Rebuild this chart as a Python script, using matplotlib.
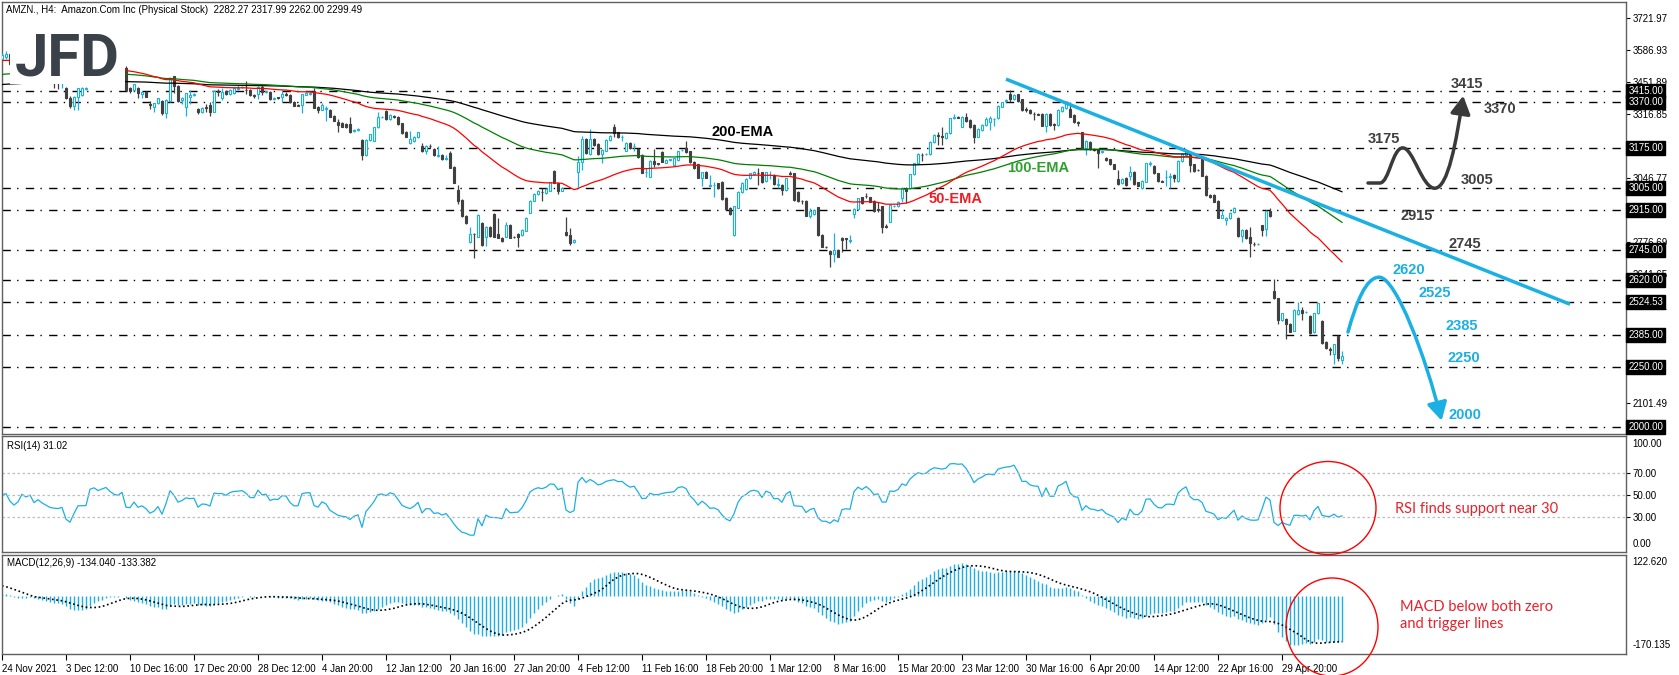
import numpy as np
import matplotlib
matplotlib.use("Agg")
import matplotlib.pyplot as plt
from matplotlib.path import Path
from matplotlib.patches import FancyArrowPatch, Ellipse, Rectangle

W, H = 1679, 675

# ---- H4 bars, AMZN 24 Nov 2021 .. 3 May 2022 ----
opens = [
    3550, 3560, 3572, 3530, 3505, 3520, 3560, 3545, 3555, 3510, 3525, 3505,
    3490, 3475, 3470, 3468, 3426, 3387, 3353, 3391, 3398, 3425, 3470, 3520,
    3530, 3515, 3525, 3535, 3515, 3500, 3495, 3511, 3426, 3418, 3429, 3401,
    3412, 3360, 3349, 3363, 3373, 3321, 3374, 3476, 3436, 3378, 3349, 3391,
    3398, 3338, 3325, 3346, 3356, 3328, 3415, 3384, 3415, 3401, 3405, 3424,
    3430, 3421, 3419, 3398, 3403, 3433, 3410, 3412, 3381, 3388, 3391, 3403,
    3398, 3370, 3356, 3356, 3400, 3402, 3415, 3349, 3335, 3340, 3335, 3311,
    3286, 3279, 3275, 3275, 3247, 3250, 3209, 3143, 3209, 3206, 3261, 3307,
    3331, 3297, 3311, 3307, 3279, 3244, 3195, 3204, 3219, 3181, 3162, 3183,
    3171, 3140, 3146, 3128, 3153, 3096, 2998, 2956, 2888, 2780, 2813, 2801,
    2857, 2801, 2841, 2897, 2811, 2797, 2801, 2850, 2801, 2813, 2808, 2826,
    2902, 2953, 2979, 2990, 2984, 2995, 3078, 3029, 2995, 2819, 2808, 2777,
    3075, 3115, 3213, 3150, 3213, 3192, 3150, 3164, 3209, 3261, 3241, 3220,
    3164, 3195, 3181, 3171, 3146, 3072, 3054, 3120, 3110, 3157, 3113, 3122,
    3103, 3124, 3165, 3174, 3160, 3117, 3106, 3050, 3075, 3015, 3018, 3026,
    3033, 2963, 2921, 2808, 2923, 2988, 3002, 3047, 3064, 3071, 3072, 3036,
    3060, 3061, 3020, 3019, 2998, 3068, 3068, 2991, 2953, 2951, 2889, 2895,
    2924, 2808, 2759, 2741, 2727, 2745, 2797, 2794, 2784, 2895, 2917, 2966,
    2974, 2966, 2953, 2918, 2928, 2844, 2864, 2930, 2928, 2963, 3005, 3005,
    3064, 3110, 3146, 3148, 3150, 3199, 3230, 3225, 3216, 3237, 3302, 3305,
    3265, 3307, 3293, 3272, 3223, 3251, 3272, 3286, 3296, 3300, 3349, 3374,
    3401, 3380, 3401, 3380, 3338, 3335, 3318, 3317, 3317, 3269, 3317, 3275,
    3272, 3331, 3342, 3339, 3314, 3283, 3241, 3174, 3199, 3170, 3167, 3156,
    3134, 3127, 3106, 3044, 3026, 3050, 3058, 3075, 3030, 3005, 3033, 3108,
    3099, 3068, 3036, 3052, 3054, 3061, 3036, 3120, 3146, 3148, 3106, 3082,
    3131, 3058, 2977, 2977, 2952, 2881, 2870, 2879, 2903, 2881, 2805, 2829,
    2801, 2770, 2769, 2848, 2833, 2909, 2572, 2541, 2450, 2453, 2432, 2405,
    2474, 2492, 2482, 2468, 2398, 2478, 2447, 2356, 2328, 2307, 2384, 2282.27,
]
highs = [
    3575, 3585, 3580, 3545, 3530, 3570, 3575, 3565, 3560, 3540, 3535, 3515,
    3500, 3485, 3480, 3478, 3431, 3392, 3392, 3428, 3431, 3432, 3530, 3540,
    3545, 3535, 3545, 3540, 3525, 3515, 3520, 3521, 3431, 3446, 3432, 3415,
    3414, 3374, 3365, 3386, 3376, 3380, 3472, 3478, 3440, 3390, 3408, 3419,
    3405, 3342, 3348, 3358, 3370, 3418, 3422, 3426, 3418, 3422, 3428, 3440,
    3436, 3457, 3422, 3402, 3436, 3443, 3416, 3414, 3390, 3391, 3420, 3410,
    3402, 3373, 3360, 3404, 3410, 3415, 3426, 3352, 3363, 3350, 3338, 3314,
    3297, 3283, 3279, 3307, 3255, 3260, 3212, 3212, 3235, 3264, 3325, 3311,
    3334, 3317, 3314, 3310, 3282, 3247, 3247, 3226, 3244, 3196, 3186, 3190,
    3174, 3182, 3149, 3146, 3160, 3099, 3019, 2960, 2892, 2843, 2818, 2896,
    2862, 2844, 2845, 2900, 2878, 2800, 2864, 2853, 2805, 2816, 2832, 2882,
    2956, 2983, 2998, 3008, 3004, 3033, 3081, 3032, 3011, 2883, 2838, 2790,
    3140, 3226, 3216, 3255, 3216, 3195, 3170, 3212, 3228, 3275, 3244, 3228,
    3198, 3198, 3195, 3174, 3149, 3089, 3123, 3171, 3113, 3160, 3127, 3130,
    3134, 3163, 3170, 3202, 3163, 3120, 3109, 3075, 3078, 3061, 3033, 3029,
    3036, 2966, 2924, 2931, 2994, 3032, 3047, 3071, 3078, 3089, 3075, 3075,
    3078, 3064, 3047, 3022, 3050, 3078, 3071, 2994, 2956, 2954, 2923, 2917,
    2927, 2811, 2762, 2744, 2815, 2748, 2800, 2797, 2807, 2920, 2965, 2969,
    2984, 2969, 2956, 2949, 2931, 2853, 2938, 2935, 2952, 3010, 3012, 3067,
    3113, 3153, 3153, 3153, 3202, 3233, 3240, 3265, 3240, 3303, 3316, 3308,
    3310, 3321, 3296, 3275, 3258, 3275, 3307, 3310, 3300, 3356, 3370, 3380,
    3419, 3401, 3404, 3383, 3349, 3338, 3328, 3320, 3320, 3320, 3320, 3280,
    3338, 3352, 3373, 3370, 3317, 3288, 3244, 3210, 3202, 3176, 3170, 3163,
    3137, 3130, 3109, 3082, 3047, 3053, 3100, 3078, 3033, 3039, 3113, 3120,
    3102, 3071, 3040, 3082, 3068, 3064, 3123, 3151, 3170, 3151, 3109, 3085,
    3134, 3061, 2980, 2980, 2955, 2918, 2884, 2905, 2926, 2884, 2832, 2832,
    2840, 2778, 2773, 2851, 2914, 2920, 2621, 2544, 2481, 2456, 2435, 2495,
    2524, 2506, 2488, 2471, 2481, 2523, 2450, 2359, 2335, 2350, 2387, 2317.99,
]
lows = [
    3540, 3548, 3520, 3495, 3490, 3515, 3535, 3530, 3500, 3495, 3495, 3480,
    3465, 3428, 3425, 3427, 3380, 3345, 3335, 3335, 3395, 3420, 3465, 3505,
    3510, 3500, 3515, 3505, 3490, 3485, 3485, 3415, 3405, 3415, 3387, 3384,
    3389, 3340, 3328, 3360, 3315, 3303, 3370, 3405, 3370, 3360, 3311, 3360,
    3395, 3318, 3322, 3328, 3311, 3325, 3393, 3377, 3399, 3398, 3402, 3418,
    3426, 3401, 3393, 3384, 3381, 3400, 3406, 3378, 3378, 3382, 3370, 3392,
    3366, 3350, 3350, 3324, 3398, 3400, 3343, 3324, 3333, 3290, 3305, 3288,
    3240, 3262, 3258, 3237, 3243, 3247, 3124, 3140, 3205, 3203, 3258, 3303,
    3294, 3294, 3303, 3273, 3234, 3220, 3192, 3201, 3216, 3159, 3148, 3176,
    3140, 3135, 3124, 3122, 3090, 3026, 2940, 2883, 2855, 2773, 2710, 2798,
    2763, 2763, 2800, 2798, 2794, 2780, 2798, 2794, 2796, 2759, 2805, 2823,
    2899, 2950, 2976, 2953, 2981, 2992, 3026, 2980, 2992, 2805, 2766, 2774,
    3012, 3083, 3150, 3147, 3185, 3147, 3110, 3161, 3206, 3219, 3216, 3204,
    3161, 3171, 3160, 3133, 3068, 3054, 3051, 3096, 3105, 3114, 3110, 3119,
    3100, 3121, 3162, 3154, 3112, 3086, 3047, 3016, 3047, 3012, 2970, 3002,
    2957, 2915, 2892, 2805, 2920, 2985, 2999, 3044, 3061, 3019, 3027, 3033,
    3044, 3019, 3005, 2977, 2995, 3062, 2953, 2949, 2937, 2887, 2881, 2892,
    2805, 2756, 2754, 2672, 2693, 2714, 2738, 2749, 2773, 2878, 2914, 2939,
    2963, 2946, 2906, 2906, 2818, 2838, 2861, 2927, 2925, 2949, 2942, 3002,
    3061, 3107, 3120, 3145, 3147, 3196, 3188, 3188, 3213, 3234, 3297, 3300,
    3262, 3286, 3258, 3197, 3220, 3248, 3269, 3251, 3268, 3297, 3346, 3370,
    3370, 3377, 3370, 3332, 3328, 3318, 3293, 3312, 3266, 3243, 3269, 3250,
    3269, 3328, 3339, 3304, 3280, 3268, 3171, 3145, 3168, 3162, 3089, 3153,
    3121, 3103, 3084, 3019, 3023, 3016, 3040, 3019, 3013, 3002, 3030, 3100,
    3065, 3033, 3030, 3016, 3005, 3033, 3033, 3117, 3143, 3075, 3075, 3077,
    3055, 2974, 2963, 2946, 2878, 2878, 2850, 2876, 2900, 2801, 2780, 2791,
    2717, 2762, 2766, 2805, 2805, 2883, 2538, 2432, 2447, 2370, 2398, 2402,
    2471, 2450, 2479, 2391, 2395, 2475, 2349, 2328, 2302, 2265, 2275, 2262.00,
]
closes = [
    3565, 3572, 3530, 3505, 3520, 3560, 3545, 3555, 3510, 3525, 3505, 3490,
    3475, 3470, 3468, 3472, 3384, 3353, 3389, 3426, 3426, 3427, 3520, 3530,
    3515, 3525, 3535, 3515, 3500, 3495, 3510, 3419, 3415, 3443, 3405, 3412,
    3391, 3354, 3363, 3384, 3320, 3377, 3469, 3434, 3373, 3385, 3405, 3398,
    3401, 3325, 3345, 3342, 3328, 3415, 3412, 3412, 3401, 3419, 3426, 3427,
    3431, 3418, 3396, 3395, 3433, 3410, 3413, 3381, 3387, 3385, 3401, 3400,
    3370, 3353, 3353, 3401, 3405, 3405, 3345, 3335, 3356, 3345, 3307, 3290,
    3272, 3265, 3261, 3241, 3251, 3255, 3143, 3209, 3232, 3261, 3304, 3307,
    3297, 3314, 3307, 3276, 3237, 3223, 3213, 3223, 3241, 3162, 3183, 3181,
    3143, 3146, 3127, 3133, 3092, 3029, 2953, 2886, 2860, 2811, 2811, 2893,
    2766, 2841, 2805, 2801, 2797, 2783, 2850, 2797, 2799, 2801, 2829, 2879,
    2953, 2980, 2995, 2988, 3001, 3030, 3029, 2995, 3008, 2808, 2773, 2787,
    3117, 3213, 3153, 3213, 3188, 3150, 3167, 3209, 3225, 3237, 3219, 3223,
    3195, 3174, 3185, 3136, 3071, 3075, 3120, 3108, 3108, 3117, 3124, 3127,
    3131, 3160, 3167, 3157, 3115, 3089, 3050, 3072, 3050, 3017, 3019, 3005,
    2960, 2918, 2895, 2928, 2991, 3029, 3044, 3068, 3075, 3068, 3030, 3072,
    3062, 3022, 3024, 2998, 3047, 3066, 2956, 2952, 2950, 2890, 2907, 2914,
    2808, 2759, 2757, 2727, 2745, 2717, 2787, 2792, 2787, 2917, 2962, 2942,
    2973, 2949, 2909, 2915, 2843, 2842, 2935, 2932, 2949, 3005, 2994, 3064,
    3110, 3150, 3143, 3150, 3199, 3230, 3227, 3223, 3237, 3300, 3305, 3302,
    3307, 3289, 3261, 3223, 3255, 3272, 3297, 3300, 3297, 3353, 3367, 3377,
    3381, 3398, 3373, 3335, 3336, 3321, 3316, 3315, 3269, 3317, 3272, 3272,
    3335, 3349, 3370, 3307, 3283, 3279, 3174, 3202, 3171, 3166, 3153, 3160,
    3124, 3106, 3087, 3022, 3044, 3019, 3075, 3022, 3016, 3036, 3110, 3112,
    3068, 3036, 3033, 3054, 3055, 3050, 3120, 3148, 3167, 3103, 3078, 3080,
    3058, 2977, 2966, 2949, 2881, 2893, 2881, 2902, 2923, 2804, 2829, 2794,
    2773, 2769, 2771, 2829, 2911, 2886, 2541, 2450, 2478, 2432, 2401, 2492,
    2492, 2478, 2485, 2394, 2478, 2520, 2352, 2331, 2325, 2347, 2288, 2299.49,
]

# indicator values just before the first bar, read at the left edge
ema50_seed, ema100_seed, ema200_seed = 3542, 3483, 3441
ema12_seed, ema26_seed, signal_seed = 3570, 3562, 35
rsi_gain_seed, rsi_loss_seed = 12.0, 12.0

date_labels = ["24 Nov 2021", "3 Dec 12:00", "10 Dec 16:00", "17 Dec 20:00",
               "28 Dec 12:00", "4 Jan 20:00", "12 Jan 12:00", "20 Jan 16:00",
               "27 Jan 20:00", "4 Feb 12:00", "11 Feb 16:00", "18 Feb 20:00",
               "1 Mar 12:00", "8 Mar 16:00", "15 Mar 20:00", "23 Mar 12:00",
               "30 Mar 16:00", "6 Apr 20:00", "14 Apr 12:00", "22 Apr 16:00",
               "29 Apr 20:00"]
bars_per_label = 16

# scale labels; the ones sitting under a level box are left blank
price_ticks = [3721.97, 3586.93, 3451.89, 3316.85, 3181.81, 3046.77, 2911.73,
               2776.69, 2641.65, 2506.61, 2371.57, 2236.53, 2101.49]
hidden_ticks = [3181.81, 2911.73, 2371.57, 2236.53]
levels = [3415, 3370, 3175, 3005, 2915, 2745, 2620, 2524.53, 2385, 2250, 2000]

# scenario targets written on the chart
bull_path = [3005, 3175, 3005, 3415]
bear_path = [2385, 2620, 2000]
trend_start = (251, 3465)
trend_end = (392, 2516)


def ema(values, period, seed):
    k = 2.0 / (period + 1)
    out, prev = [], seed
    for v in values:
        prev = prev + k * (v - prev)
        out.append(prev)
    return np.array(out)


def rsi(values, period, gain, loss):
    out, prev = [], values[0]
    for v in values:
        d = v - prev
        gain = (gain * (period - 1) + max(d, 0)) / period
        loss = (loss * (period - 1) + max(-d, 0)) / period
        out.append(100 - 100 / (1 + gain / loss) if loss > 0 else 100)
        prev = v
    return np.array(out)


opens = np.array(opens, float)
closes = np.array(closes, float)
highs = np.maximum(np.array(highs, float), np.maximum(opens, closes))
lows = np.minimum(np.array(lows, float), np.minimum(opens, closes))
idx = np.arange(len(closes))

ema50 = ema(closes, 50, ema50_seed)
ema100 = ema(closes, 100, ema100_seed)
ema200 = ema(closes, 200, ema200_seed)
macd = ema(closes, 12, ema12_seed) - ema(closes, 26, ema26_seed)
padded = np.concatenate([[signal_seed] * 8, macd])
signal = np.array([padded[i:i + 9].mean() for i in range(len(macd))])
rsi_vals = rsi(closes, 14, rsi_gain_seed, rsi_loss_seed)

CYAN = '#1ab0e4'
DARK = '#404040'
MT = 'Liberation Sans'
ANN = 'Liberation Sans'

fig = plt.figure(figsize=(W / 100, H / 100), dpi=100)


def frac(x0, y0, x1, y1):
    return [x0 / W, 1 - y1 / H, (x1 - x0) / W, (y1 - y0) / H]


ax = fig.add_axes(frac(2, 2, 1626, 434))
ax_rsi = fig.add_axes(frac(2, 436, 1626, 552))
ax_macd = fig.add_axes(frac(2, 555, 1626, 654))

xmax = (1626 - 2) / 4
for a in (ax, ax_rsi, ax_macd):
    a.set_xlim(0, xmax)
    for s in a.spines.values():
        s.set_color('#606060')
        s.set_linewidth(1.0)
    a.yaxis.tick_right()
    a.tick_params(axis='y', length=3, width=0.8, pad=2, labelsize=7,
                  colors='black')

# ---- price panel ----
ax.set_ylim(1969, 3790)
ax.set_xticks([])
ax.set_yticks(price_ticks)
ax.set_yticklabels(["" if t in hidden_ticks else f"{t:.2f}" for t in price_ticks],
                   family=MT, fontsize=7)

up = closes >= opens
colors = np.where(up, CYAN, DARK)
ax.vlines(idx, lows, highs, colors=colors, lw=0.9, zorder=3)
ax.bar(idx[up], (closes - opens)[up], bottom=opens[up], width=0.55,
       facecolor='white', edgecolor=CYAN, linewidth=0.8, zorder=4)
ax.bar(idx[~up], (closes - opens)[~up], bottom=opens[~up], width=0.55,
       facecolor=DARK, edgecolor=DARK, linewidth=0.8, zorder=4)

ax.plot(idx, ema200, color='black', lw=0.9, zorder=5)
ax.plot(idx, ema100, color='#008000', lw=0.9, zorder=5)
ax.plot(idx, ema50, color='#ff0000', lw=0.9, zorder=5)

for lv in levels:
    ax.axhline(lv, color='black', lw=1.0, dashes=(6, 4.5, 1, 5.3), zorder=2)
    ax.text(1.0015, lv, f"{lv:.2f}", transform=ax.get_yaxis_transform(),
            ha='left', va='center', fontsize=7, family=MT, color='white',
            bbox=dict(boxstyle='square,pad=0.2', fc='black', ec='black'),
            zorder=10, clip_on=False)

ax.plot([trend_start[0], trend_end[0]], [trend_start[1], trend_end[1]],
        color=CYAN, lw=2.5, solid_capstyle='butt', zorder=6)

# bullish scenario (dark)
b0, b1, b2, b3 = bull_path
bull = Path([(341.5, b0 + 22), (344.5, b0 + 22),
             (346.8, b0 + 25), (347.6, b1), (350.2, b1),
             (352.8, b1), (355.0, b2), (358.2, b2),
             (361.5, b2), (363.6, b1 + 30), (365.3, b3 - 20)],
            [Path.MOVETO, Path.LINETO,
             Path.CURVE4, Path.CURVE4, Path.CURVE4,
             Path.CURVE4, Path.CURVE4, Path.CURVE4,
             Path.CURVE4, Path.CURVE4, Path.CURVE4])
ax.add_patch(FancyArrowPatch(path=bull, arrowstyle='-|>,head_length=0.9,head_width=0.5',
                             mutation_scale=12, color='#3a3a3a', lw=2.5, zorder=7))

# bearish scenario (cyan)
c0, c1, c2 = bear_path
bear = Path([(336.5, c0 + 14), (338.6, c0 + 140), (341.0, c1 + 10), (344.3, c1 + 10),
             (348.5, c1 + 10), (356.0, c1 - 330), (359.9, c2 + 25)],
            [Path.MOVETO, Path.CURVE4, Path.CURVE4, Path.CURVE4,
             Path.CURVE4, Path.CURVE4, Path.CURVE4])
ax.add_patch(FancyArrowPatch(path=bear, arrowstyle='-|>,head_length=0.9,head_width=0.5',
                             mutation_scale=12, color=CYAN, lw=2.5, zorder=7))

ann = dict(family=ANN, fontweight='bold', fontsize=10.5, ha='center', va='center', zorder=8)
for txt, xi, yp in [("3415", 366.25, 3444), ("3370", 374.5, 3339), ("3175", 345.5, 3212),
                    ("3005", 368.75, 3040), ("2915", 353.75, 2888), ("2745", 365.75, 2770)]:
    ax.text(xi, yp, txt, color='#3f3f3f', **ann)
for txt, xi, yp in [("2620", 351.75, 2660), ("2525", 358.25, 2563), ("2385", 365.0, 2424),
                    ("2250", 365.5, 2289), ("2000", 365.75, 2049)]:
    ax.text(xi, yp, txt, color=CYAN, **ann)
ax.text(185.25, 3242, "200-EMA", color='black', **ann)
ax.text(259.0, 3090, "100-EMA", color='#2ea02e', **ann)
ax.text(238.5, 2960, "50-EMA", color='#ee1c25', **ann)

# ---- RSI panel ----
ax_rsi.set_ylim(-1, 102.7)
ax_rsi.set_xticks([])
ax_rsi.plot(idx, rsi_vals, color=CYAN, lw=0.9)
for lv in (70, 50, 30):
    ax_rsi.axhline(lv, color='#bdbdbd', lw=0.9, dashes=(2, 2))
ax_rsi.set_yticks([70, 50, 30])
ax_rsi.set_yticklabels(["70.00", "50.00", "30.00"], family=MT, fontsize=7)
ax_rsi.text(1.004, 0.97, "100.00", transform=ax_rsi.transAxes, ha='left', va='top',
            fontsize=7, family=MT)
ax_rsi.text(1.004, 0.03, "0.00", transform=ax_rsi.transAxes, ha='left', va='bottom',
            fontsize=7, family=MT)
ax_rsi.text(0.003, 0.914, "RSI(14) 31.02", transform=ax_rsi.transAxes, ha='left',
            va='center', fontsize=7, family=MT)

# ---- MACD panel ----
ax_macd.set_ylim(-170.135, 122.62)
ax_macd.vlines(idx, 0, macd, colors=CYAN, lw=1.0)
ax_macd.plot(idx, signal, color='black', lw=1.2, linestyle=(0, (1, 1.6)))
ax_macd.set_yticks([])
ax_macd.text(1.004, 0.98, "122.620", transform=ax_macd.transAxes, ha='left', va='top',
             fontsize=7, family=MT)
ax_macd.text(1.004, 0.04, "-170.135", transform=ax_macd.transAxes, ha='left', va='bottom',
             fontsize=7, family=MT)
ax_macd.text(0.003, 0.92, "MACD(12,26,9) -134.040 -133.382", transform=ax_macd.transAxes,
             ha='left', va='center', fontsize=7, family=MT)
ax_macd.set_xticks(np.arange(len(date_labels)) * bars_per_label)
ax_macd.set_xticklabels(date_labels, family=MT, fontsize=7, ha='left')
ax_macd.tick_params(axis='x', length=4, width=0.8, pad=3, direction='out')

# ---- overlays ----
fig.text(6 / W, 1 - 10 / H, "AMZN., H4:  Amazon.Com Inc (Physical Stock)  "
         "2282.27 2317.99 2262.00 2299.49", fontsize=7, family=MT, va='center')
fig.add_artist(Rectangle((10 / W, 1 - 84 / H), 115 / W, 58 / H, transform=fig.transFigure,
                         fc='white', ec='none', zorder=10))
fig.text(15 / W, 1 - 76 / H, "JFD", fontsize=43, fontweight='bold', family='Roboto',
         color='#3a4149', va='baseline', zorder=11)

fig.add_artist(Ellipse((1328 / W, 1 - 508 / H), 96 / W, 93 / H, transform=fig.transFigure,
                       fill=False, ec='red', lw=1.0, zorder=12))
fig.add_artist(Ellipse((1332 / W, 1 - 627 / H), 92 / W, 98 / H, transform=fig.transFigure,
                       fill=False, ec='red', lw=1.0, zorder=12))
fig.text(1395 / W, 1 - 509 / H, "RSI finds support near 30", color='#e8212a',
         fontsize=10.5, family='Lato', va='center', zorder=12)
fig.text(1400 / W, 1 - 615.5 / H, "MACD below both zero\nand trigger lines",
         color='#e8212a', fontsize=10.5, family='Lato', va='center', linespacing=1.35,
         zorder=12)

fig.savefig("out.png", dpi=100, facecolor='white')
